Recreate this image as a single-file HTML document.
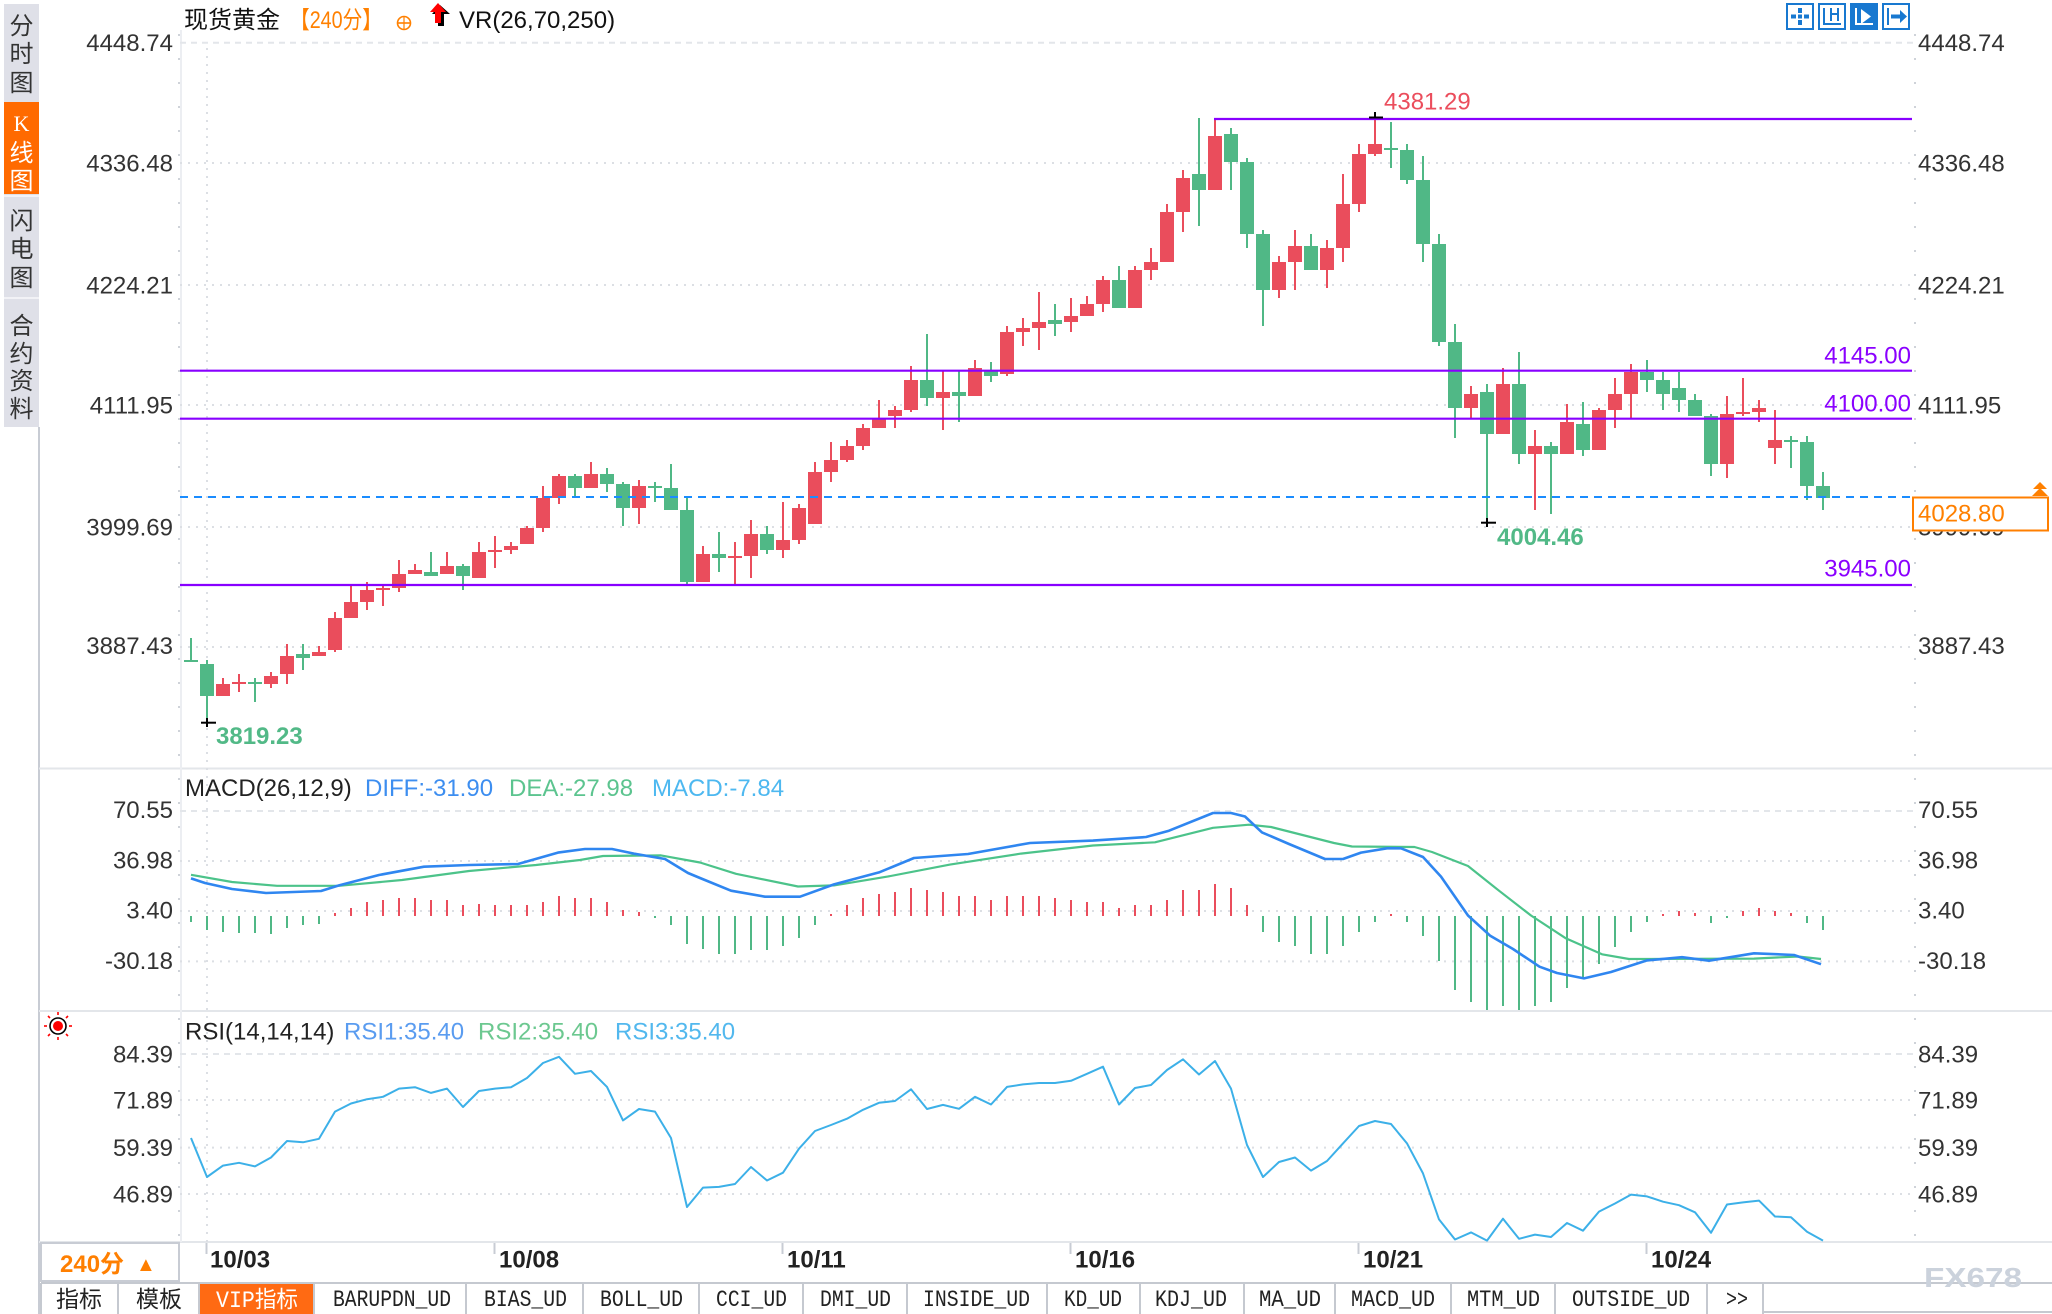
<!DOCTYPE html>
<html><head><meta charset="utf-8"><style>
html,body{margin:0;padding:0;background:#fff;}
body{width:2052px;height:1314px;overflow:hidden;}
svg{display:block;font-family:"Liberation Sans","Noto Sans CJK SC",sans-serif;}
.r{fill:#ea4d5c}.g{fill:#50b886}
.ax{font-size:24px;fill:#333}
.gd{stroke:#dcdfe4;stroke-width:2;stroke-dasharray:2 6;fill:none}
.gt{stroke:#e3e6ea;stroke-width:2;stroke-dasharray:6 5;fill:none}
.pl{stroke:#8800ff;stroke-width:2.2}
.tab{font-family:"Liberation Mono",monospace;font-size:23px;fill:#222}
.sep{stroke:#c5c9d0;stroke-width:2}
</style></head><body>
<svg width="2052" height="1314" viewBox="0 0 2052 1314" xmlns="http://www.w3.org/2000/svg">
<!-- sidebar -->
<rect x="4" y="4" width="35" height="423" fill="#dfe0e8"/>
<rect x="4" y="102" width="35" height="92" fill="#ff6a00"/>
<line x1="4" y1="196" x2="39" y2="196" stroke="#f2f2f6" stroke-width="2"/>
<line x1="4" y1="298" x2="39" y2="298" stroke="#f2f2f6" stroke-width="2"/>
<g font-size="24" fill="#333" text-anchor="middle">
<text x="21.5" y="34">分</text><text x="21.5" y="62">时</text><text x="21.5" y="91">图</text>
<text x="21.5" y="131" fill="#fff" style="font-family:'Liberation Serif',serif" font-size="22">K</text>
<text x="21.5" y="161" fill="#fff">线</text><text x="21.5" y="189" fill="#fff">图</text>
<text x="21.5" y="229">闪</text><text x="21.5" y="257">电</text><text x="21.5" y="286">图</text>
<text x="21.5" y="334">合</text><text x="21.5" y="362">约</text><text x="21.5" y="389">资</text><text x="21.5" y="417">料</text>
</g>
<line x1="39" y1="427" x2="39" y2="1314" stroke="#c8ccd4" stroke-width="2"/>

<!-- panel separators -->
<line x1="39" y1="768.5" x2="2052" y2="768.5" stroke="#e3e6ea" stroke-width="2"/>
<line x1="39" y1="1011" x2="2052" y2="1011" stroke="#e3e6ea" stroke-width="2"/>
<line x1="39" y1="1242" x2="2052" y2="1242" stroke="#e3e6ea" stroke-width="2"/>
<line x1="181" y1="30" x2="181" y2="1242" stroke="#eceef2" stroke-width="2"/>
<line x1="179" y1="34" x2="179" y2="1242" stroke="#cfd3d9" stroke-width="2" stroke-dasharray="2 22"/>
<line x1="1915" y1="34" x2="1915" y2="1242" stroke="#cfd3d9" stroke-width="2" stroke-dasharray="2 22"/>

<!-- grids -->
<line class="gt" x1="180" y1="42.7" x2="1915" y2="42.7"/>
<line class="gd" x1="180" y1="163" x2="1915" y2="163"/>
<line class="gd" x1="180" y1="285" x2="1915" y2="285"/>
<line class="gd" x1="180" y1="405" x2="1915" y2="405"/>
<line class="gd" x1="180" y1="527" x2="1915" y2="527"/>
<line class="gd" x1="180" y1="647" x2="1915" y2="647"/>
<line class="gt" x1="180" y1="811" x2="1915" y2="811"/>
<line class="gd" x1="180" y1="861" x2="1915" y2="861"/>
<line class="gd" x1="180" y1="911" x2="1915" y2="911"/>
<line class="gd" x1="180" y1="961.4" x2="1915" y2="961.4"/>
<line class="gt" x1="180" y1="1054" x2="1915" y2="1054"/>
<line class="gd" x1="180" y1="1100" x2="1915" y2="1100"/>
<line class="gd" x1="180" y1="1147.6" x2="1915" y2="1147.6"/>
<line class="gd" x1="180" y1="1194" x2="1915" y2="1194"/>
<line class="gd" x1="207" y1="48" x2="207" y2="1242"/>

<!-- title -->
<text x="184" y="28" font-size="24" fill="#111">现货黄金</text>
<text x="290" y="28" font-size="24" fill="#ff8000" textLength="92" lengthAdjust="spacingAndGlyphs">【240分】</text>
<circle cx="404" cy="23" r="6.5" fill="none" stroke="#ff8000" stroke-width="1.6"/>
<line x1="397.5" y1="23" x2="410.5" y2="23" stroke="#ff8000" stroke-width="1.6"/>
<line x1="404" y1="16.5" x2="404" y2="29.5" stroke="#ff8000" stroke-width="1.2"/>
<polygon points="440,5 432,14 438,14 438,26 444,26 444,14 450,14" fill="#000"/>
<polygon points="438,3 430,12 435,12 435,23 441,23 441,12 446,12" fill="#ff0000"/>
<text x="459" y="28" font-size="24" fill="#111">VR(26,70,250)</text>

<!-- toolbar icons -->
<g fill="none" stroke="#1878d0" stroke-width="2">
<rect x="1787" y="4" width="26" height="25"/>
<rect x="1819" y="4" width="26" height="25"/>
<rect x="1851" y="4" width="26" height="25" fill="#1878d0"/>
<rect x="1883" y="4" width="26" height="25"/>
</g>
<g fill="#1878d0">
<rect x="1798" y="8" width="4" height="5"/><rect x="1798" y="20" width="4" height="5"/>
<rect x="1791" y="14.5" width="5" height="4"/><rect x="1804" y="14.5" width="5" height="4"/>
<rect x="1798" y="14.5" width="4" height="4"/>
<rect x="1823" y="8" width="2" height="17"/><rect x="1823" y="23" width="18" height="2"/>
<rect x="1830" y="8" width="2" height="13"/><rect x="1837" y="8" width="2" height="13"/><rect x="1830" y="13" width="9" height="2"/>
<rect x="1887" y="8" width="2" height="17"/><rect x="1891" y="14.5" width="10" height="4"/>
<polygon points="1900,10 1907,16.5 1900,23"/>
</g>
<g fill="#fff"><rect x="1855" y="8" width="2" height="17"/><rect x="1855" y="23" width="18" height="2"/><polygon points="1861,9 1871,16.5 1861,24"/></g>

<!-- axis labels main -->
<g class="ax" text-anchor="end">
<text x="173" y="51">4448.74</text><text x="173" y="171.5">4336.48</text><text x="173" y="293.5">4224.21</text>
<text x="173" y="413.5">4111.95</text><text x="173" y="535.5">3999.69</text><text x="173" y="654">3887.43</text>
<text x="173" y="818">70.55</text><text x="173" y="868.5">36.98</text><text x="173" y="918.5">3.40</text><text x="173" y="969">-30.18</text>
<text x="173" y="1062.5">84.39</text><text x="173" y="1108.5">71.89</text><text x="173" y="1156">59.39</text><text x="173" y="1202.5">46.89</text>
</g>
<g class="ax">
<text x="1918" y="51">4448.74</text><text x="1918" y="171.5">4336.48</text><text x="1918" y="293.5">4224.21</text>
<text x="1918" y="413.5">4111.95</text><text x="1918" y="535.5">3999.69</text><text x="1918" y="654">3887.43</text>
<text x="1918" y="818">70.55</text><text x="1918" y="868.5">36.98</text><text x="1918" y="918.5">3.40</text><text x="1918" y="969">-30.18</text>
<text x="1918" y="1062.5">84.39</text><text x="1918" y="1108.5">71.89</text><text x="1918" y="1156">59.39</text><text x="1918" y="1202.5">46.89</text>
</g>

<!-- candles -->
<g class="g">
<rect x="190" y="638" width="2" height="24"/><rect x="184" y="660" width="14" height="2"/>
<rect x="206" y="660" width="2" height="63"/><rect x="200" y="664" width="14" height="32"/>
<rect x="254" y="678" width="2" height="24"/><rect x="248" y="682" width="14" height="2"/>
<rect x="302" y="644" width="2" height="26"/><rect x="296" y="654" width="14" height="4"/>
<rect x="430" y="552" width="2" height="24"/><rect x="424" y="572" width="14" height="4"/>
<rect x="462" y="564" width="2" height="26"/><rect x="456" y="566" width="14" height="10"/>
<rect x="574" y="474" width="2" height="24"/><rect x="568" y="476" width="14" height="12"/>
<rect x="606" y="468" width="2" height="24"/><rect x="600" y="474" width="14" height="10"/>
<rect x="622" y="482" width="2" height="44"/><rect x="616" y="484" width="14" height="24"/>
<rect x="654" y="482" width="2" height="20"/><rect x="648" y="486" width="14" height="2"/>
<rect x="670" y="464" width="2" height="46"/><rect x="664" y="488" width="14" height="22"/>
<rect x="686" y="497" width="2" height="87"/><rect x="680" y="510" width="14" height="72"/>
<rect x="718" y="532" width="2" height="40"/><rect x="712" y="554" width="14" height="4"/>
<rect x="766" y="526" width="2" height="28"/><rect x="760" y="534" width="14" height="16"/>
<rect x="926" y="334" width="2" height="72"/><rect x="920" y="380" width="14" height="18"/>
<rect x="958" y="371" width="2" height="51"/><rect x="952" y="392" width="14" height="4"/>
<rect x="990" y="362" width="2" height="20"/><rect x="984" y="371" width="14" height="5"/>
<rect x="1054" y="304" width="2" height="32"/><rect x="1048" y="320" width="14" height="4"/>
<rect x="1118" y="266" width="2" height="42"/><rect x="1112" y="280" width="14" height="28"/>
<rect x="1198" y="118" width="2" height="108"/><rect x="1192" y="174" width="14" height="16"/>
<rect x="1230" y="128" width="2" height="62"/><rect x="1224" y="134" width="14" height="28"/>
<rect x="1246" y="158" width="2" height="90"/><rect x="1240" y="162" width="14" height="72"/>
<rect x="1262" y="230" width="2" height="96"/><rect x="1256" y="234" width="14" height="56"/>
<rect x="1310" y="234" width="2" height="36"/><rect x="1304" y="246" width="14" height="24"/>
<rect x="1390" y="122" width="2" height="46"/><rect x="1384" y="148" width="14" height="2"/>
<rect x="1406" y="144" width="2" height="40"/><rect x="1400" y="150" width="14" height="30"/>
<rect x="1422" y="156" width="2" height="106"/><rect x="1416" y="180" width="14" height="64"/>
<rect x="1438" y="234" width="2" height="112"/><rect x="1432" y="244" width="14" height="98"/>
<rect x="1454" y="324" width="2" height="114"/><rect x="1448" y="342" width="14" height="66"/>
<rect x="1486" y="384" width="2" height="138"/><rect x="1480" y="392" width="14" height="42"/>
<rect x="1518" y="352" width="2" height="112"/><rect x="1512" y="384" width="14" height="70"/>
<rect x="1550" y="442" width="2" height="72"/><rect x="1544" y="446" width="14" height="8"/>
<rect x="1582" y="402" width="2" height="54"/><rect x="1576" y="424" width="14" height="26"/>
<rect x="1646" y="360" width="2" height="32"/><rect x="1640" y="372" width="14" height="8"/>
<rect x="1662" y="372" width="2" height="38"/><rect x="1656" y="380" width="14" height="14"/>
<rect x="1678" y="372" width="2" height="40"/><rect x="1672" y="388" width="14" height="12"/>
<rect x="1694" y="394" width="2" height="22"/><rect x="1688" y="400" width="14" height="16"/>
<rect x="1710" y="414" width="2" height="62"/><rect x="1704" y="416" width="14" height="48"/>
<rect x="1790" y="436" width="2" height="32"/><rect x="1784" y="440" width="14" height="2"/>
<rect x="1806" y="436" width="2" height="64"/><rect x="1800" y="442" width="14" height="44"/>
<rect x="1822" y="472" width="2" height="38"/><rect x="1816" y="486" width="14" height="12"/>
</g>
<g class="r">
<rect x="222" y="678" width="2" height="18"/><rect x="216" y="684" width="14" height="12"/>
<rect x="238" y="674" width="2" height="18"/><rect x="232" y="682" width="14" height="2"/>
<rect x="270" y="672" width="2" height="16"/><rect x="264" y="676" width="14" height="8"/>
<rect x="286" y="644" width="2" height="40"/><rect x="280" y="656" width="14" height="18"/>
<rect x="318" y="646" width="2" height="10"/><rect x="312" y="652" width="14" height="4"/>
<rect x="334" y="612" width="2" height="40"/><rect x="328" y="618" width="14" height="32"/>
<rect x="350" y="585" width="2" height="33"/><rect x="344" y="602" width="14" height="16"/>
<rect x="366" y="582" width="2" height="28"/><rect x="360" y="590" width="14" height="12"/>
<rect x="382" y="585" width="2" height="21"/><rect x="376" y="588" width="14" height="2"/>
<rect x="398" y="560" width="2" height="32"/><rect x="392" y="574" width="14" height="14"/>
<rect x="414" y="564" width="2" height="10"/><rect x="408" y="570" width="14" height="4"/>
<rect x="446" y="552" width="2" height="22"/><rect x="440" y="566" width="14" height="8"/>
<rect x="478" y="542" width="2" height="36"/><rect x="472" y="552" width="14" height="26"/>
<rect x="494" y="536" width="2" height="32"/><rect x="488" y="550" width="14" height="2"/>
<rect x="510" y="542" width="2" height="12"/><rect x="504" y="546" width="14" height="4"/>
<rect x="526" y="526" width="2" height="18"/><rect x="520" y="528" width="14" height="16"/>
<rect x="542" y="486" width="2" height="46"/><rect x="536" y="498" width="14" height="30"/>
<rect x="558" y="474" width="2" height="30"/><rect x="552" y="476" width="14" height="22"/>
<rect x="590" y="462" width="2" height="26"/><rect x="584" y="474" width="14" height="14"/>
<rect x="638" y="480" width="2" height="44"/><rect x="632" y="486" width="14" height="22"/>
<rect x="702" y="546" width="2" height="36"/><rect x="696" y="554" width="14" height="28"/>
<rect x="734" y="542" width="2" height="42"/><rect x="728" y="556" width="14" height="2"/>
<rect x="750" y="520" width="2" height="58"/><rect x="744" y="534" width="14" height="22"/>
<rect x="782" y="502" width="2" height="56"/><rect x="776" y="540" width="14" height="10"/>
<rect x="798" y="504" width="2" height="40"/><rect x="792" y="508" width="14" height="32"/>
<rect x="814" y="462" width="2" height="62"/><rect x="808" y="472" width="14" height="52"/>
<rect x="830" y="442" width="2" height="40"/><rect x="824" y="460" width="14" height="12"/>
<rect x="846" y="440" width="2" height="22"/><rect x="840" y="446" width="14" height="14"/>
<rect x="862" y="424" width="2" height="26"/><rect x="856" y="428" width="14" height="18"/>
<rect x="878" y="400" width="2" height="28"/><rect x="872" y="418" width="14" height="10"/>
<rect x="894" y="406" width="2" height="22"/><rect x="888" y="410" width="14" height="6"/>
<rect x="910" y="366" width="2" height="46"/><rect x="904" y="380" width="14" height="30"/>
<rect x="942" y="371" width="2" height="59"/><rect x="936" y="392" width="14" height="6"/>
<rect x="974" y="360" width="2" height="36"/><rect x="968" y="368" width="14" height="28"/>
<rect x="1006" y="326" width="2" height="50"/><rect x="1000" y="332" width="14" height="42"/>
<rect x="1022" y="318" width="2" height="28"/><rect x="1016" y="328" width="14" height="4"/>
<rect x="1038" y="292" width="2" height="58"/><rect x="1032" y="322" width="14" height="6"/>
<rect x="1070" y="298" width="2" height="34"/><rect x="1064" y="316" width="14" height="6"/>
<rect x="1086" y="296" width="2" height="20"/><rect x="1080" y="304" width="14" height="12"/>
<rect x="1102" y="276" width="2" height="36"/><rect x="1096" y="280" width="14" height="24"/>
<rect x="1134" y="266" width="2" height="42"/><rect x="1128" y="270" width="14" height="38"/>
<rect x="1150" y="248" width="2" height="32"/><rect x="1144" y="262" width="14" height="8"/>
<rect x="1166" y="204" width="2" height="58"/><rect x="1160" y="212" width="14" height="50"/>
<rect x="1182" y="170" width="2" height="62"/><rect x="1176" y="178" width="14" height="34"/>
<rect x="1214" y="119" width="2" height="71"/><rect x="1208" y="136" width="14" height="54"/>
<rect x="1278" y="256" width="2" height="42"/><rect x="1272" y="262" width="14" height="28"/>
<rect x="1294" y="230" width="2" height="60"/><rect x="1288" y="246" width="14" height="16"/>
<rect x="1326" y="240" width="2" height="48"/><rect x="1320" y="248" width="14" height="22"/>
<rect x="1342" y="174" width="2" height="88"/><rect x="1336" y="204" width="14" height="44"/>
<rect x="1358" y="144" width="2" height="68"/><rect x="1352" y="154" width="14" height="50"/>
<rect x="1374" y="119" width="2" height="37"/><rect x="1368" y="144" width="14" height="10"/>
<rect x="1470" y="386" width="2" height="32"/><rect x="1464" y="394" width="14" height="14"/>
<rect x="1502" y="368" width="2" height="66"/><rect x="1496" y="384" width="14" height="50"/>
<rect x="1534" y="430" width="2" height="80"/><rect x="1528" y="446" width="14" height="8"/>
<rect x="1566" y="404" width="2" height="50"/><rect x="1560" y="422" width="14" height="32"/>
<rect x="1598" y="408" width="2" height="42"/><rect x="1592" y="410" width="14" height="40"/>
<rect x="1614" y="378" width="2" height="50"/><rect x="1608" y="394" width="14" height="16"/>
<rect x="1630" y="364" width="2" height="54"/><rect x="1624" y="372" width="14" height="22"/>
<rect x="1726" y="396" width="2" height="82"/><rect x="1720" y="414" width="14" height="50"/>
<rect x="1742" y="378" width="2" height="38"/><rect x="1736" y="412" width="14" height="2"/>
<rect x="1758" y="400" width="2" height="22"/><rect x="1752" y="408" width="14" height="4"/>
<rect x="1774" y="410" width="2" height="54"/><rect x="1768" y="440" width="14" height="8"/>
</g>

<!-- horizontal lines -->
<line class="pl" x1="1214" y1="119" x2="1912" y2="119"/>
<line class="pl" x1="180" y1="370.7" x2="1912" y2="370.7"/>
<line class="pl" x1="180" y1="418.7" x2="1912" y2="418.7"/>
<line class="pl" x1="180" y1="585" x2="1912" y2="585"/>
<line x1="180" y1="497" x2="1912" y2="497" stroke="#1a8cff" stroke-width="2" stroke-dasharray="8 6"/>

<g font-size="24" fill="#8a00ff" text-anchor="end">
<text x="1911" y="363.5">4145.00</text><text x="1911" y="411.5">4100.00</text><text x="1911" y="576.5">3945.00</text>
</g>
<!-- extreme markers -->
<g stroke="#000" stroke-width="2">
<line x1="1369" y1="117.5" x2="1383" y2="117.5"/><line x1="1375" y1="112" x2="1375" y2="118"/>
<line x1="1481" y1="522.7" x2="1496" y2="522.7"/><line x1="1487" y1="518" x2="1487" y2="527"/>
<line x1="201" y1="722.7" x2="216" y2="722.7"/><line x1="207" y1="718" x2="207" y2="727"/>
</g>
<text x="1384" y="109.5" font-size="24" fill="#eb4d5c">4381.29</text>
<text x="1497" y="545" font-size="24" font-weight="bold" fill="#52b987">4004.46</text>
<text x="216" y="744" font-size="24" font-weight="bold" fill="#52b987">3819.23</text>

<!-- current price box -->
<rect x="1913" y="497.5" width="135" height="33" fill="#fff" stroke="#ff7f00" stroke-width="2"/>
<text x="1918" y="521.5" font-size="24" fill="#ff8000">4028.80</text>
<polygon points="2040,482 2033,489 2047,489" fill="#ff8000"/>
<polygon points="2040,488 2032,496 2048,496" fill="#ff8000"/>

<!-- MACD -->
<text x="185" y="796" font-size="24" fill="#222">MACD(26,12,9)</text>
<text x="365" y="796" font-size="24" fill="#3d8ef0">DIFF:-31.90</text>
<text x="509" y="796" font-size="24" fill="#5cc48f">DEA:-27.98</text>
<text x="652" y="796" font-size="24" fill="#4db8f0">MACD:-7.84</text>
<g class="g">
<rect x="190" y="916" width="2" height="6"/><rect x="206" y="916" width="2" height="14"/><rect x="222" y="916" width="2" height="16"/>
<rect x="238" y="916" width="2" height="17"/><rect x="254" y="916" width="2" height="17"/><rect x="270" y="916" width="2" height="18"/>
<rect x="286" y="916" width="2" height="12"/><rect x="302" y="916" width="2" height="9"/><rect x="318" y="916" width="2" height="8"/>
<rect x="654" y="916" width="2" height="2"/><rect x="670" y="916" width="2" height="9"/><rect x="686" y="916" width="2" height="28"/>
<rect x="702" y="916" width="2" height="33"/><rect x="718" y="916" width="2" height="38"/><rect x="734" y="916" width="2" height="38"/>
<rect x="750" y="916" width="2" height="34"/><rect x="766" y="916" width="2" height="34"/><rect x="782" y="916" width="2" height="30"/>
<rect x="798" y="916" width="2" height="22"/><rect x="814" y="916" width="2" height="9"/>
<rect x="1262" y="916" width="2" height="16"/><rect x="1278" y="916" width="2" height="26"/><rect x="1294" y="916" width="2" height="30"/>
<rect x="1310" y="916" width="2" height="38"/><rect x="1326" y="916" width="2" height="38"/><rect x="1342" y="916" width="2" height="30"/>
<rect x="1358" y="916" width="2" height="16"/><rect x="1374" y="916" width="2" height="6"/><rect x="1406" y="916" width="2" height="6"/>
<rect x="1422" y="916" width="2" height="20"/><rect x="1438" y="916" width="2" height="45"/><rect x="1454" y="916" width="2" height="74"/>
<rect x="1470" y="916" width="2" height="86"/><rect x="1486" y="916" width="2" height="94"/><rect x="1502" y="916" width="2" height="90"/>
<rect x="1518" y="916" width="2" height="94"/><rect x="1534" y="916" width="2" height="90"/><rect x="1550" y="916" width="2" height="86"/>
<rect x="1566" y="916" width="2" height="72"/><rect x="1582" y="916" width="2" height="63"/><rect x="1598" y="916" width="2" height="48"/>
<rect x="1614" y="916" width="2" height="31"/><rect x="1630" y="916" width="2" height="16"/><rect x="1646" y="916" width="2" height="6"/>
<rect x="1710" y="916" width="2" height="7"/><rect x="1726" y="916" width="2" height="2"/><rect x="1806" y="916" width="2" height="7"/>
<rect x="1822" y="916" width="2" height="14"/>
</g>
<g class="r">
<rect x="334" y="913" width="2" height="3"/><rect x="350" y="908" width="2" height="8"/><rect x="366" y="902" width="2" height="14"/>
<rect x="382" y="900" width="2" height="16"/><rect x="398" y="898" width="2" height="18"/><rect x="414" y="898" width="2" height="18"/>
<rect x="430" y="900" width="2" height="16"/><rect x="446" y="900" width="2" height="16"/><rect x="462" y="905" width="2" height="11"/>
<rect x="478" y="904" width="2" height="12"/><rect x="494" y="905" width="2" height="11"/><rect x="510" y="905" width="2" height="11"/>
<rect x="526" y="905" width="2" height="11"/><rect x="542" y="902" width="2" height="14"/><rect x="558" y="896" width="2" height="20"/>
<rect x="574" y="898" width="2" height="18"/><rect x="590" y="898" width="2" height="18"/><rect x="606" y="902" width="2" height="14"/>
<rect x="622" y="910" width="2" height="6"/><rect x="638" y="912" width="2" height="4"/>
<rect x="830" y="914" width="2" height="2"/><rect x="846" y="905" width="2" height="11"/><rect x="862" y="898" width="2" height="18"/>
<rect x="878" y="894" width="2" height="22"/><rect x="894" y="892" width="2" height="24"/><rect x="910" y="888" width="2" height="28"/>
<rect x="926" y="890" width="2" height="26"/><rect x="942" y="892" width="2" height="24"/><rect x="958" y="896" width="2" height="20"/>
<rect x="974" y="896" width="2" height="20"/><rect x="990" y="900" width="2" height="16"/><rect x="1006" y="896" width="2" height="20"/>
<rect x="1022" y="896" width="2" height="20"/><rect x="1038" y="896" width="2" height="20"/><rect x="1054" y="898" width="2" height="18"/>
<rect x="1070" y="900" width="2" height="16"/><rect x="1086" y="902" width="2" height="14"/><rect x="1102" y="902" width="2" height="14"/>
<rect x="1118" y="908" width="2" height="8"/><rect x="1134" y="905" width="2" height="11"/><rect x="1150" y="905" width="2" height="11"/>
<rect x="1166" y="900" width="2" height="16"/><rect x="1182" y="890" width="2" height="26"/><rect x="1198" y="890" width="2" height="26"/>
<rect x="1214" y="884" width="2" height="32"/><rect x="1230" y="888" width="2" height="28"/><rect x="1246" y="905" width="2" height="11"/>
<rect x="1390" y="914" width="2" height="2"/><rect x="1662" y="914" width="2" height="2"/><rect x="1678" y="911" width="2" height="5"/>
<rect x="1694" y="913" width="2" height="3"/><rect x="1742" y="911" width="2" height="5"/><rect x="1758" y="908" width="2" height="8"/>
<rect x="1774" y="911" width="2" height="5"/><rect x="1790" y="913" width="2" height="3"/>
</g>
<polyline fill="none" stroke="#4cc38a" stroke-width="2.2" stroke-linejoin="round" points="191,874.8 232,882 277,885.8 339,885.8 402,880 469,871 536,865 580,860 603,856 661,855.4 700,862.5 736,873.8 798,886.5 834,885.4 887.5,876.6 950,864.6 1021,853.6 1093,845.5 1155,842.3 1213,827.8 1249,824.7 1271,827 1334,843 1352,846.5 1414.5,847 1432,852 1468,866 1499,890.7 1531,915.5 1566,938.4 1602,954.3 1629,959 1754,958.6 1798,956.5 1821,959"/>
<polyline fill="none" stroke="#2f86f0" stroke-width="2.6" stroke-linejoin="round" points="191,878.4 205,883 232,889 266,893 321,891 339,885.4 379,875 424,866.7 469,865 518,864 558,852.6 585,849 612,849 634,853.6 665,859 688,873 700,878 731,890.7 765,896.7 800,896.7 834,884.4 879,872.4 914,858 968,854 1030,843 1093,840.6 1146,837 1169,830.7 1213,813 1231,813 1245,816.5 1262,832.4 1289,844 1325,859 1343,859 1361,852.6 1387,848.3 1401,848.3 1423,857 1441,876.6 1468,915.5 1490,935.6 1513,949 1539.5,966.7 1557,973 1584,978.4 1611,972 1647,960.4 1682,957.2 1709,960.7 1754,953.3 1794,955 1821,964.2"/>

<!-- RSI -->
<g transform="translate(58,1026)">
<circle r="5" fill="#ff0000"/><circle r="8" fill="none" stroke="#000" stroke-width="1.6"/>
<g stroke="#ff0000" stroke-width="1.6">
<line x1="0" y1="-11" x2="0" y2="-14"/><line x1="0" y1="11" x2="0" y2="14"/><line x1="-11" y1="0" x2="-14" y2="0"/><line x1="11" y1="0" x2="14" y2="0"/>
<line x1="8" y1="8" x2="10" y2="10"/><line x1="-8" y1="8" x2="-10" y2="10"/><line x1="8" y1="-8" x2="10" y2="-10"/><line x1="-8" y1="-8" x2="-10" y2="-10"/>
</g></g>
<text x="185" y="1039.5" font-size="24" fill="#222">RSI(14,14,14)</text>
<text x="344" y="1039.5" font-size="24" fill="#5a9cf0">RSI1:35.40</text>
<text x="478" y="1039.5" font-size="24" fill="#6cc890">RSI2:35.40</text>
<text x="615" y="1039.5" font-size="24" fill="#52b8ee">RSI3:35.40</text>
<polyline fill="none" stroke="#3cb0e8" stroke-width="2" stroke-linejoin="round" points="191,1138 207,1177 223,1165.6 239,1162.8 255,1166.4 271,1157.5 287,1141 303,1142.3 319,1138.8 335,1111.6 351,1103.5 367,1099.2 383,1096.8 399,1088.6 415,1087.2 431,1092.9 447,1088.6 463,1107 479,1091 495,1088.6 511,1087.2 527,1078 543,1063 559,1056.8 575,1073.8 591,1071 607,1086.9 623,1120.4 639,1109 655,1111.6 671,1138 687,1207 703,1187.6 719,1186.9 735,1184 751,1167 767,1180.5 783,1172.7 799,1148.7 815,1131 831,1125 847,1118.7 863,1109.8 879,1102.8 895,1101 911,1089.3 927,1109 943,1104.9 959,1108.8 975,1096.8 991,1104.5 1007,1086.9 1023,1084.4 1039,1083 1055,1083 1071,1080.8 1087,1073.8 1103,1066.7 1119,1104.5 1135,1088 1151,1085 1167,1070 1183,1059.3 1199,1074.5 1215,1061 1231,1088.6 1247,1145 1263,1177 1279,1162 1295,1157.5 1311,1170.6 1327,1161 1343,1143.4 1359,1126 1375,1121 1391,1124 1407,1143.4 1423,1173.4 1439,1219.4 1455,1239.5 1471,1232.4 1487,1240.6 1503,1218.7 1519,1238.8 1535,1234.6 1551,1237 1567,1223 1583,1230.7 1599,1211.6 1615,1203.5 1631,1194.6 1647,1196.4 1663,1201.7 1679,1205.2 1695,1212.3 1711,1232.8 1727,1204.5 1743,1202.4 1759,1200.6 1775,1216.5 1791,1217.2 1807,1231.7 1823,1240.6"/>

<!-- x axis -->
<g stroke="#c8ccd4" stroke-width="2">
<line x1="206.5" y1="1243" x2="206.5" y2="1254"/><line x1="494.5" y1="1243" x2="494.5" y2="1254"/>
<line x1="782.5" y1="1243" x2="782.5" y2="1254"/><line x1="1070.5" y1="1243" x2="1070.5" y2="1254"/>
<line x1="1358.5" y1="1243" x2="1358.5" y2="1254"/><line x1="1646.5" y1="1243" x2="1646.5" y2="1254"/>
</g>
<g font-size="24" font-weight="bold" fill="#222">
<text x="210" y="1267.5">10/03</text><text x="499" y="1267.5">10/08</text><text x="787" y="1267.5">10/11</text>
<text x="1075" y="1267.5">10/16</text><text x="1363" y="1267.5">10/21</text><text x="1651" y="1267.5">10/24</text>
</g>
<rect x="41" y="1243" width="138" height="38" fill="#fff" stroke="#c8ccd4" stroke-width="2"/>
<text x="60" y="1272" font-size="24" font-weight="bold" fill="#ff7f00">240分</text>
<text x="136" y="1271" font-size="20" font-weight="bold" fill="#ff7f00">▲</text>

<!-- bottom tabs -->
<rect x="200" y="1283" width="114" height="31" fill="#ff6a13"/>
<line class="sep" x1="41" y1="1283" x2="2052" y2="1283"/>
<line class="sep" x1="1763" y1="1312" x2="2052" y2="1312"/>
<g class="sep">
<line x1="41" y1="1283" x2="41" y2="1314"/><line x1="118" y1="1283" x2="118" y2="1314"/><line x1="199" y1="1283" x2="199" y2="1314"/>
<line x1="314" y1="1283" x2="314" y2="1314"/><line x1="466" y1="1283" x2="466" y2="1314"/><line x1="583" y1="1283" x2="583" y2="1314"/>
<line x1="699" y1="1283" x2="699" y2="1314"/><line x1="803" y1="1283" x2="803" y2="1314"/><line x1="907" y1="1283" x2="907" y2="1314"/>
<line x1="1047" y1="1283" x2="1047" y2="1314"/><line x1="1140" y1="1283" x2="1140" y2="1314"/><line x1="1244" y1="1283" x2="1244" y2="1314"/>
<line x1="1335" y1="1283" x2="1335" y2="1314"/><line x1="1451" y1="1283" x2="1451" y2="1314"/><line x1="1555" y1="1283" x2="1555" y2="1314"/>
<line x1="1707" y1="1283" x2="1707" y2="1314"/><line x1="1763" y1="1283" x2="1763" y2="1314"/>
</g>
<text x="56" y="1307" font-size="23" fill="#222">指标</text>
<text x="136" y="1307" font-size="23" fill="#222">模板</text>
<text x="216" y="1307" font-size="23" fill="#fff" textLength="82" lengthAdjust="spacingAndGlyphs" style="font-family:'Liberation Mono','Noto Sans CJK SC',monospace">VIP指标</text>
<text class="tab" x="333" y="1306" textLength="118" lengthAdjust="spacingAndGlyphs">BARUPDN_UD</text>
<text class="tab" x="484" y="1306" textLength="83" lengthAdjust="spacingAndGlyphs">BIAS_UD</text>
<text class="tab" x="600" y="1306" textLength="83" lengthAdjust="spacingAndGlyphs">BOLL_UD</text>
<text class="tab" x="716" y="1306" textLength="71" lengthAdjust="spacingAndGlyphs">CCI_UD</text>
<text class="tab" x="820" y="1306" textLength="71" lengthAdjust="spacingAndGlyphs">DMI_UD</text>
<text class="tab" x="923" y="1306" textLength="107" lengthAdjust="spacingAndGlyphs">INSIDE_UD</text>
<text class="tab" x="1064" y="1306" textLength="58" lengthAdjust="spacingAndGlyphs">KD_UD</text>
<text class="tab" x="1155" y="1306" textLength="72" lengthAdjust="spacingAndGlyphs">KDJ_UD</text>
<text class="tab" x="1259" y="1306" textLength="62" lengthAdjust="spacingAndGlyphs">MA_UD</text>
<text class="tab" x="1351" y="1306" textLength="84" lengthAdjust="spacingAndGlyphs">MACD_UD</text>
<text class="tab" x="1467" y="1306" textLength="73" lengthAdjust="spacingAndGlyphs">MTM_UD</text>
<text class="tab" x="1572" y="1306" textLength="118" lengthAdjust="spacingAndGlyphs">OUTSIDE_UD</text>
<text class="tab" x="1726" y="1306" textLength="22" lengthAdjust="spacingAndGlyphs">&gt;&gt;</text>
<text x="1924" y="1287" font-size="28" font-weight="bold" fill="#cbd2dc" textLength="98" lengthAdjust="spacingAndGlyphs">FX678</text>
</svg>
</body></html>
